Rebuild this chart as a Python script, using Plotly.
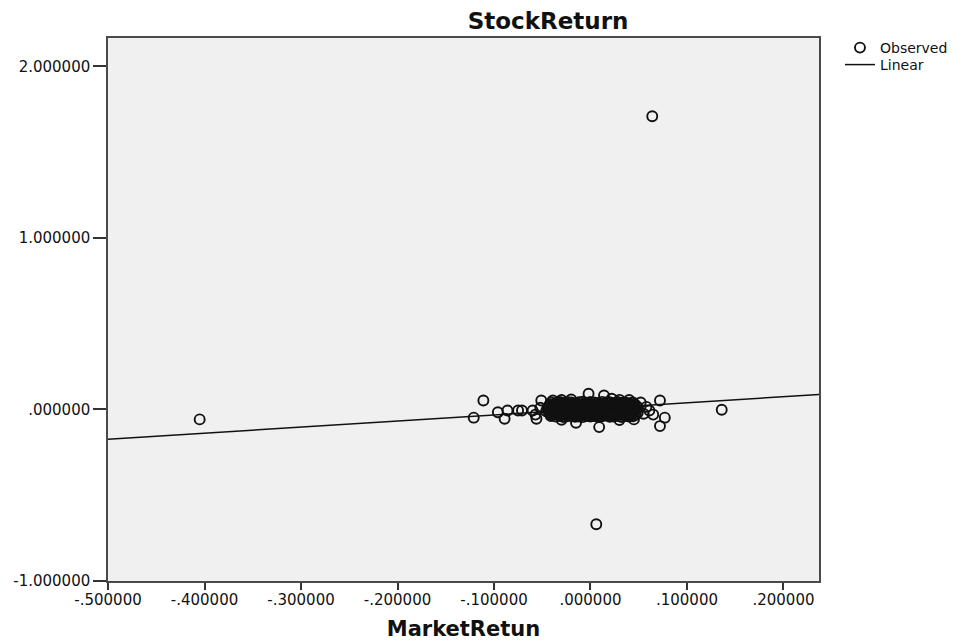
import plotly.graph_objects as go

# ---- data ----
# outlying / edge observations
edge_x = [
    -0.405, 0.064, 0.006, 0.136,
    -0.121, -0.111, -0.096, -0.089, -0.086, -0.075, -0.071, -0.060, -0.057, -0.056, -0.052, -0.051,
    -0.039, -0.030, -0.020, -0.002, 0.014, 0.022, 0.030, 0.040,
    -0.030, -0.015, 0.009, 0.030, 0.045,
    0.052, 0.055, 0.058, 0.061, 0.065, 0.072, 0.072, 0.077,
]
edge_y = [
    -0.058, 1.709, -0.669, -0.002,
    -0.048, 0.052, -0.016, -0.054, -0.006, -0.006, -0.006, -0.006, -0.030, -0.054, 0.010, 0.052,
    0.052, 0.055, 0.058, 0.091, 0.081, 0.062, 0.056, 0.055,
    -0.060, -0.078, -0.103, -0.062, -0.058,
    0.040, -0.025, 0.015, -0.006, -0.030, 0.052, -0.097, -0.048,
]

# dense central cluster, read row by row
row1_x = [-0.041, -0.036, -0.032, -0.028, -0.024, -0.020, -0.016, -0.012, -0.008, -0.004, 0.000,
          0.004, 0.008, 0.012, 0.016, 0.020, 0.024, 0.028, 0.032, 0.036, 0.040, 0.044]
row1_y = [0.041, 0.038, 0.043, 0.039, 0.044, 0.040, 0.037, 0.042, 0.045, 0.039, 0.043,
          0.041, 0.038, 0.044, 0.040, 0.042, 0.037, 0.043, 0.039, 0.041, 0.036, 0.040]

row2_x = [-0.042, -0.038, -0.034, -0.030, -0.026, -0.022, -0.018, -0.014, -0.010, -0.006, -0.002, 0.002,
          0.006, 0.010, 0.014, 0.018, 0.022, 0.026, 0.030, 0.034, 0.038, 0.042, 0.046]
row2_y = [0.031, 0.028, 0.033, 0.029, 0.032, 0.027, 0.030, 0.034, 0.028, 0.031, 0.033, 0.029,
          0.032, 0.028, 0.030, 0.034, 0.029, 0.031, 0.027, 0.033, 0.030, 0.028, 0.031]

row3_x = [-0.043, -0.039, -0.035, -0.031, -0.027, -0.023, -0.019, -0.015, -0.011, -0.007, -0.003, 0.001,
          0.005, 0.009, 0.013, 0.017, 0.021, 0.025, 0.029, 0.033, 0.037, 0.041, 0.045, 0.049]
row3_y = [0.022, 0.018, 0.021, 0.024, 0.017, 0.020, 0.023, 0.019, 0.016, 0.022, 0.025, 0.018,
          0.021, 0.017, 0.024, 0.020, 0.019, 0.023, 0.018, 0.021, 0.016, 0.022, 0.019, 0.015]

row4_x = [-0.044, -0.041, -0.037, -0.033, -0.029, -0.025, -0.021, -0.017, -0.013, -0.009, -0.005, -0.001,
          0.003, 0.007, 0.011, 0.015, 0.019, 0.023, 0.027, 0.031, 0.035, 0.039, 0.043, 0.047]
row4_y = [0.011, 0.008, 0.012, 0.009, 0.013, 0.010, 0.007, 0.011, 0.014, 0.009, 0.012, 0.008,
          0.010, 0.013, 0.009, 0.011, 0.007, 0.012, 0.010, 0.008, 0.013, 0.011, 0.009, 0.010]

row5_x = [-0.045, -0.040, -0.036, -0.032, -0.028, -0.024, -0.020, -0.016, -0.012, -0.008, -0.004, 0.000,
          0.004, 0.008, 0.012, 0.016, 0.020, 0.024, 0.028, 0.032, 0.036, 0.040, 0.044, 0.048]
row5_y = [0.002, -0.003, 0.001, 0.004, -0.002, 0.000, 0.003, -0.004, 0.001, -0.001, 0.005, 0.002,
          -0.003, 0.000, 0.004, -0.002, 0.001, 0.003, -0.004, 0.002, -0.001, 0.000, 0.003, -0.002]

row6_x = [-0.046, -0.042, -0.038, -0.034, -0.030, -0.026, -0.022, -0.018, -0.014, -0.010, -0.006, -0.002,
          0.002, 0.006, 0.010, 0.014, 0.018, 0.022, 0.026, 0.030, 0.034, 0.038, 0.042, 0.046]
row6_y = [-0.011, -0.008, -0.012, -0.009, -0.013, -0.010, -0.007, -0.011, -0.014, -0.009, -0.012, -0.008,
          -0.010, -0.013, -0.009, -0.011, -0.007, -0.012, -0.010, -0.008, -0.013, -0.011, -0.009, -0.010]

row7_x = [-0.043, -0.039, -0.035, -0.031, -0.027, -0.023, -0.019, -0.015, -0.011, -0.007, -0.003, 0.001,
          0.005, 0.009, 0.013, 0.017, 0.021, 0.025, 0.029, 0.033, 0.037, 0.041, 0.045, 0.049]
row7_y = [-0.021, -0.018, -0.023, -0.019, -0.024, -0.017, -0.020, -0.022, -0.016, -0.021, -0.025, -0.018,
          -0.020, -0.023, -0.017, -0.022, -0.019, -0.024, -0.020, -0.018, -0.021, -0.023, -0.017, -0.020]

row8_x = [-0.041, -0.037, -0.033, -0.029, -0.025, -0.021, -0.017, -0.013, -0.009, -0.005, -0.001,
          0.003, 0.007, 0.011, 0.015, 0.019, 0.023, 0.027, 0.031, 0.035, 0.039, 0.043, 0.047]
row8_y = [-0.031, -0.028, -0.033, -0.029, -0.032, -0.027, -0.030, -0.034, -0.028, -0.031, -0.033,
          -0.029, -0.032, -0.028, -0.030, -0.034, -0.029, -0.031, -0.027, -0.033, -0.030, -0.028, -0.031]

row9_x = [-0.041, -0.036, -0.032, -0.028, -0.024, -0.020, -0.016, -0.012, -0.008, -0.004, 0.000,
          0.004, 0.008, 0.012, 0.016, 0.020, 0.024, 0.028, 0.032, 0.036, 0.040, 0.044]
row9_y = [-0.039, -0.042, -0.038, -0.044, -0.040, -0.037, -0.043, -0.041, -0.045, -0.039, -0.042,
          -0.038, -0.044, -0.040, -0.036, -0.043, -0.041, -0.039, -0.044, -0.038, -0.042, -0.040]

rows = [(row1_x, row1_y), (row2_x, row2_y), (row3_x, row3_y), (row4_x, row4_y), (row5_x, row5_y),
        (row6_x, row6_y), (row7_x, row7_y), (row8_x, row8_y), (row9_x, row9_y)]

market_x = list(edge_x)
stock_y = list(edge_y)
for rx, ry in rows:
    n = min(len(rx), len(ry))
    market_x += rx[:n]
    stock_y += ry[:n]

# fitted linear regression line (end points across the x range)
fit_x = [-0.5, 0.2368]
fit_y = [-0.174, 0.087]

x_tick_vals = [-0.5, -0.4, -0.3, -0.2, -0.1, 0.0, 0.1, 0.2]
x_tick_text = ["-.500000", "-.400000", "-.300000", "-.200000", "-.100000",
               ".000000", ".100000", ".200000"]
y_tick_vals = [-1.0, 0.0, 1.0, 2.0]
y_tick_text = ["-1.000000", ".000000", "1.000000", "2.000000"]

FONT = "DejaVu Sans"

fig = go.Figure()
fig.add_trace(go.Scatter(
    x=market_x, y=stock_y, mode="markers", name="Observed", legend="legend",
    marker=dict(symbol="circle", size=10, color="rgba(0,0,0,0)",
                line=dict(color="#111111", width=1.9)),
))
fig.add_trace(go.Scatter(
    x=fit_x, y=fit_y, mode="lines", name="Linear", legend="legend2",
    line=dict(color="#111111", width=1.5),
))

axis_common = dict(
    showgrid=False, zeroline=False, showline=True, mirror=True, automargin=False,
    linecolor="#4a4a4a", linewidth=1.5, ticks="outside", tickcolor="#333333",
    tickwidth=1.5, tickfont=dict(family=FONT, size=15, color="#111111"),
)

legend_common = dict(xanchor="left", yanchor="middle",
                     font=dict(family=FONT, size=14, color="#111111"),
                     bgcolor="rgba(0,0,0,0)", borderwidth=0)

# the page body adds an 8px offset, so the figure is sized to compensate
fig.update_layout(
    width=957, height=633,
    margin=dict(l=100, r=146, t=30, b=60, autoexpand=False),
    paper_bgcolor="white", plot_bgcolor="#f0f0f0",
    title=dict(text="StockReturn", x=0.619, xref="paper", xanchor="center",
               y=0.9795, yref="container", yanchor="middle",
               font=dict(family=FONT, size=23, color="#111111", weight="bold")),
    xaxis=dict(range=[-0.5, 0.2368], tickvals=x_tick_vals, ticktext=x_tick_text,
               ticklen=7, ticklabelstandoff=-3,
               title=dict(text="MarketRetun", standoff=20,
                          font=dict(family=FONT, size=21, color="#111111", weight="bold")),
               **axis_common),
    yaxis=dict(range=[-1.0, 2.165], tickvals=y_tick_vals, ticktext=y_tick_text,
               ticklen=13, **axis_common),
    showlegend=True,
    legend=dict(x=1.0295, y=0.9816, **legend_common),
    legend2=dict(x=1.0295, y=0.9503, **legend_common),
)

fig.write_html("out.html")
